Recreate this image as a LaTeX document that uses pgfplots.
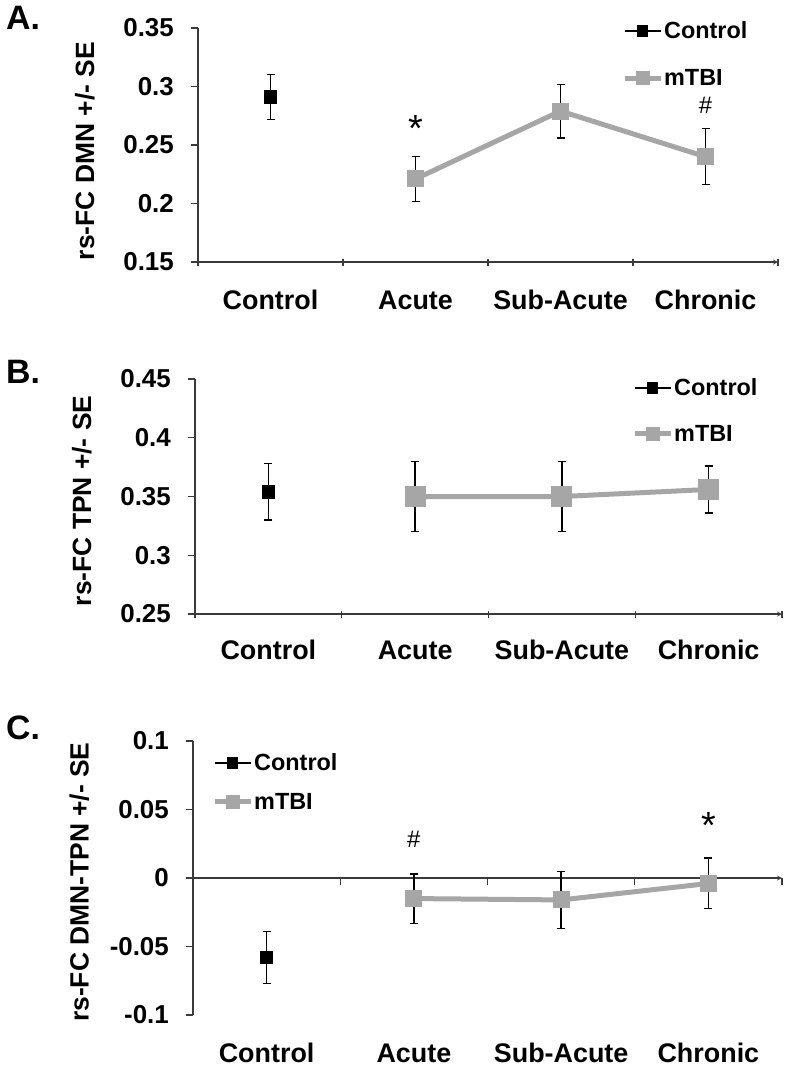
\documentclass[border=0pt]{standalone}
\usepackage{pgfplots}
\pgfplotsset{compat=1.18}
\usepackage{fontspec}
\setmainfont{Liberation Sans}
\definecolor{mgray}{HTML}{A6A6A6}
\definecolor{axgray}{HTML}{3A3A3A}
\pgfplotsset{
  panel/.style={
    scale only axis,
    clip=false,
    xmin=-0.5, xmax=3.5,
    axis y line=left,
    axis line style={axgray, line width=1.2bp, -},
    x axis line style={-}, y axis line style={-},
    xtick={0,1,2,3},
    xticklabels={Control,Acute,Sub-Acute,Chronic},
    minor xtick={-0.5,0.5,1.5,2.5,3.5},
    major x tick style={draw=none},
    minor x tick style={axgray, line width=1.2bp},
    major y tick style={axgray, line width=1.2bp},
    tick align=outside,
    major tick length=7bp, minor tick length=7bp,
    xticklabel style={font=\fontsize{27}{27}\selectfont\bfseries, anchor=base, inner sep=0pt},
    yticklabel style={font=\fontsize{26}{26}\selectfont\bfseries, anchor=east, inner sep=0pt, xshift=-17bp},
    /pgf/number format/assume math mode=true,
    scaled y ticks=false,
    legend cell align=left,
    legend image code/.code={\draw[##1, mark size=4.5bp, mark repeat=2, mark phase=2] plot coordinates {(0bp,0bp) (18bp,0bp) (36bp,0bp)};},
  },
  ctrl/.style={black, line width=2.5bp, mark=square*, mark size=5.5bp, mark options={solid},
    error bars/.cd, y dir=both, y explicit,
    error bar style={black, line width=1.3bp},
    error mark options={black, rotate=90, mark size=4bp, line width=1.3bp}},
  tbi/.style={mgray, line width=5bp, mark=square*, mark size=#1, mark options={solid},
    error bars/.cd, y dir=both, y explicit,
    error bar style={black, line width=1.3bp},
    error mark options={black, rotate=90, mark size=4bp, line width=1.3bp}},
  tbi/.default=6bp,
}
\begin{document}
\begin{tikzpicture}
\useasboundingbox (0,0) rectangle (788bp,-1068bp);
% panel letters
\node[anchor=base west, inner sep=0pt, font=\fontsize{34}{34}\selectfont\bfseries] at (6bp,-29bp) {A.};
\node[anchor=base west, inner sep=0pt, font=\fontsize{34}{34}\selectfont\bfseries] at (6bp,-383bp) {B.};
\node[anchor=base west, inner sep=0pt, font=\fontsize{34}{34}\selectfont\bfseries] at (6bp,-739bp) {C.};

% Panel A
\begin{axis}[panel, at={(198bp,-262bp)}, anchor=south west, width=580bp, height=234bp,
  axis x line=bottom,
  ymin=0.15, ymax=0.35, ytick={0.15,0.2,0.25,0.3,0.35},
  yticklabels={0.15,0.2,0.25,0.3,0.35},
  xticklabel style={yshift=-44bp},
  every axis y label/.style={at={(axis description cs:-0.195,0.474)}, rotate=90, anchor=center, inner sep=0pt, font=\fontsize{26.5}{26.5}\selectfont\bfseries},
  ylabel={rs-FC DMN +/- SE},
  legend style={draw=none, fill=none, inner sep=0pt, nodes={inner xsep=0pt}, anchor=north west, at={(axis description cs:0.731,1.036)},
    font=\fontsize{23.5}{23.5}\selectfont\bfseries, row sep=25bp, column sep=1bp},
]
\addplot[ctrl] coordinates {(0,0.291) +- (0,0.019)};
\addlegendentry{Control}
\addplot[tbi] coordinates {(1,0.221) +- (0,0.019) (2,0.279) +- (0,0.023) (3,0.240) +- (0,0.024)};
\addlegendentry{mTBI}
\node[anchor=base, inner sep=0pt, font=\fontsize{38}{38}\selectfont] at (axis cs:1,0.271) [yshift=-21bp] {*};
\node[anchor=center, inner sep=0pt, font=\fontsize{24}{24}\selectfont] at (axis cs:3,0.284) {\#};
\end{axis}

% Panel B
\begin{axis}[panel, at={(195bp,-614bp)}, anchor=south west, width=587bp, height=235bp,
  axis x line=bottom,
  ymin=0.25, ymax=0.45, ytick={0.25,0.3,0.35,0.4,0.45},
  yticklabels={0.25,0.3,0.35,0.4,0.45},
  xticklabel style={yshift=-42bp},
  every axis y label/.style={at={(axis description cs:-0.193,0.481)}, rotate=90, anchor=center, inner sep=0pt, font=\fontsize{26.5}{26.5}\selectfont\bfseries},
  ylabel={rs-FC TPN +/- SE},
  legend style={draw=none, fill=none, inner sep=0pt, nodes={inner xsep=0pt}, anchor=north west, at={(axis description cs:0.7445,1.0106)},
    font=\fontsize{23.5}{23.5}\selectfont\bfseries, row sep=24bp, column sep=1bp},
]
\addplot[ctrl] coordinates {(0,0.354) +- (0,0.024)};
\addlegendentry{Control}
\addplot[tbi=8bp] coordinates {(1,0.350) +- (0,0.030) (2,0.350) +- (0,0.030) (3,0.356) +- (0,0.020)};
\addlegendentry{mTBI}
\end{axis}

% Panel C
\begin{axis}[panel, at={(193bp,-1015bp)}, anchor=south west, width=589bp, height=274bp,
  axis x line=middle, xtick align=outside,
  ymin=-0.1, ymax=0.1, ytick={-0.1,-0.05,0,0.05,0.1},
  yticklabels={-0.1,-0.05,0,0.05,0.1},
  xticklabel style={yshift=-177bp},
  every axis y label/.style={at={(axis description cs:-0.193,0.485)}, rotate=90, anchor=center, inner sep=0pt, font=\fontsize{26.5}{26.5}\selectfont\bfseries},
  ylabel={rs-FC DMN-TPN +/- SE},
  legend style={draw=none, fill=none, inner sep=0pt, nodes={inner xsep=0pt}, anchor=north west, at={(axis description cs:0.0323,0.9617)},
    font=\fontsize{23.5}{23.5}\selectfont\bfseries, row sep=17bp, column sep=1bp},
]
\addplot[ctrl] coordinates {(0,-0.058) +- (0,0.019)};
\addlegendentry{Control}
\addplot[tbi] coordinates {(1,-0.015) +- (0,0.018) (2,-0.016) +- (0,0.021) (3,-0.004) +- (0,0.0185)};
\addlegendentry{mTBI}
\node[anchor=center, inner sep=0pt, font=\fontsize{24}{24}\selectfont] at (axis cs:1,0.028) {\#};
\node[anchor=base, inner sep=0pt, font=\fontsize{38}{38}\selectfont] at (axis cs:3,0.0445) [yshift=-21bp] {*};
\end{axis}
\end{tikzpicture}
\end{document}
